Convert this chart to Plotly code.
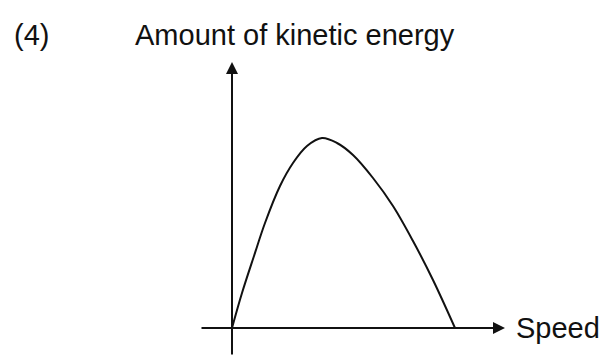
import plotly.graph_objects as go

# Kinetic energy versus speed (arbitrary units)
speed = [0, 1.0, 2.2, 3.3, 4.8, 6.1, 7.5, 9.0, 10.5, 12.1, 14.1, 16.1, 18.1, 20.1, 22.3]
energy = [0, 3.5, 7.2, 10.5, 14.2, 16.5, 18.2, 19.0, 18.5, 17.3, 15.0, 12.2, 8.7, 4.8, 0]

panel_label = "(4)"
y_title = "Amount of kinetic energy"
x_title = "Speed"

W, H = 608, 358
FONT = "Liberation Sans, Arial, sans-serif"
INK = "#111111"

fig = go.Figure()
fig.add_trace(go.Scatter(
    x=speed, y=energy, mode="lines",
    line=dict(color=INK, width=2, shape="spline", smoothing=1.0),
    hoverinfo="skip", showlegend=False,
))

# Axes drawn as arrows through the origin
fig.add_annotation(x=27.3, y=0, ax=-3.2, ay=0, xref="x", yref="y", axref="x", ayref="y",
                   text="", showarrow=True, arrowhead=2, arrowsize=1.2, arrowwidth=2,
                   arrowcolor=INK)
fig.add_annotation(x=0, y=26.6, ax=0, ay=-2.8, xref="x", yref="y", axref="x", ayref="y",
                   text="", showarrow=True, arrowhead=2, arrowsize=1.2, arrowwidth=2,
                   arrowcolor=INK)

# Labels
fig.add_annotation(x=12 / W, y=1 - 35 / H, xref="paper", yref="paper", text=panel_label,
                   showarrow=False, xanchor="left", yanchor="middle",
                   font=dict(family=FONT, size=29, color=INK))
fig.add_annotation(x=133 / W, y=1 - 35 / H, xref="paper", yref="paper", text=y_title,
                   showarrow=False, xanchor="left", yanchor="middle",
                   font=dict(family=FONT, size=29, color=INK))
fig.add_annotation(x=28.2, y=0, xref="x", yref="y", text=x_title,
                   showarrow=False, xanchor="left", yanchor="middle",
                   font=dict(family=FONT, size=29, color=INK))

fig.update_xaxes(range=[-23.2, 37.6], visible=False, fixedrange=True)
fig.update_yaxes(range=[-3.0, 32.8], visible=False, fixedrange=True)
fig.update_layout(
    width=W, height=H,
    margin=dict(l=0, r=0, t=0, b=0),
    paper_bgcolor="white", plot_bgcolor="white",
)

fig.write_html("out.html")
